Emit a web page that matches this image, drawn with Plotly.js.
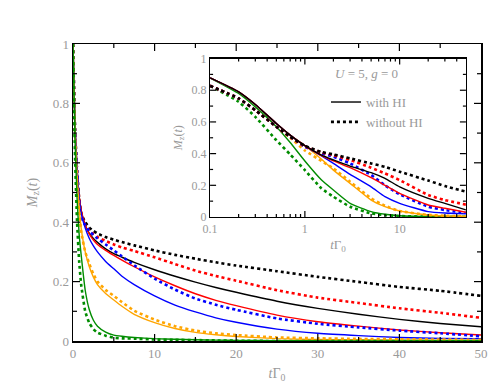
<!DOCTYPE html>
<html>
<head>
<meta charset="utf-8">
<script src="https://cdn.plot.ly/plotly-3.0.1.min.js"></script>
<style>body{margin:0;background:#fff}#plotly-div{width:501px;height:383px}</style>
</head>
<body>
<div id="plotly-div"></div>
<script>
// main panel: time axis (linear)
var tMain = [0, 0.25, 0.5, 0.75, 1, 1.5, 2, 2.5, 3, 4, 5, 6, 7.5, 10, 12.5, 15, 17.5, 20, 25, 30, 35, 40, 45, 50];

var blackHI    = [1, 0.72, 0.58, 0.49, 0.44, 0.39, 0.362, 0.345, 0.332, 0.31, 0.294, 0.282, 0.265, 0.24, 0.218, 0.198, 0.18, 0.164, 0.134, 0.11, 0.09, 0.073, 0.059, 0.048];
var blackNoHI  = [1, 0.71, 0.57, 0.48, 0.43, 0.40, 0.382, 0.371, 0.362, 0.35, 0.341, 0.333, 0.322, 0.305, 0.29, 0.277, 0.265, 0.254, 0.235, 0.216, 0.199, 0.182, 0.169, 0.152];
var redHI      = [1, 0.72, 0.58, 0.49, 0.44, 0.39, 0.36, 0.34, 0.325, 0.305, 0.288, 0.272, 0.25, 0.216, 0.186, 0.159, 0.137, 0.119, 0.087, 0.065, 0.05, 0.037, 0.028, 0.02];
var redNoHI    = [1, 0.71, 0.57, 0.48, 0.43, 0.39, 0.372, 0.36, 0.35, 0.337, 0.325, 0.315, 0.303, 0.282, 0.259, 0.237, 0.219, 0.203, 0.171, 0.146, 0.128, 0.11, 0.095, 0.078];
var blueHI     = [1, 0.72, 0.58, 0.48, 0.43, 0.38, 0.345, 0.32, 0.3, 0.268, 0.243, 0.218, 0.19, 0.152, 0.121, 0.098, 0.078, 0.063, 0.04, 0.026, 0.018, 0.012, 0.009, 0.008];
var blueNoHI   = [1, 0.71, 0.57, 0.47, 0.42, 0.39, 0.37, 0.357, 0.345, 0.325, 0.305, 0.285, 0.255, 0.21, 0.173, 0.143, 0.122, 0.105, 0.076, 0.058, 0.046, 0.035, 0.026, 0.016];
var orangeHI   = [1, 0.71, 0.55, 0.45, 0.38, 0.3, 0.25, 0.215, 0.19, 0.16, 0.138, 0.117, 0.09, 0.062, 0.042, 0.029, 0.021, 0.015, 0.008, 0.005, 0.004, 0.003, 0.002, 0.002];
var orangeNoHI = [1, 0.69, 0.53, 0.44, 0.37, 0.3, 0.26, 0.225, 0.2, 0.172, 0.152, 0.131, 0.102, 0.072, 0.05, 0.035, 0.026, 0.02, 0.012, 0.009, 0.007, 0.006, 0.005, 0.004];
var greenHI    = [1, 0.68, 0.48, 0.36, 0.29, 0.17, 0.105, 0.07, 0.05, 0.03, 0.02, 0.016, 0.012, 0.008, 0.006, 0.004, 0.003, 0.002, 0.001, 0.001, 0, 0, 0, 0];
var greenNoHI  = [1, 0.62, 0.4, 0.27, 0.19, 0.1, 0.06, 0.04, 0.028, 0.018, 0.011, 0.009, 0.008, 0.005, 0.004, 0.003, 0.002, 0.001, 0, 0, 0, 0, 0, 0];

// inset: U = 5, g = 0 (log time axis)
var tInset = [0.1, 0.2, 0.3, 0.5, 0.7, 1, 1.5, 2, 3, 5, 7, 10, 20, 30, 50];

var inBlackHI    = [0.878, 0.79, 0.71, 0.59, 0.517, 0.45, 0.39, 0.36, 0.321, 0.28, 0.244, 0.19, 0.118, 0.086, 0.045];
var inBlackNoHI  = [0.828, 0.748, 0.674, 0.57, 0.506, 0.45, 0.41, 0.395, 0.37, 0.338, 0.317, 0.286, 0.23, 0.195, 0.16];
var inRedHI      = [0.878, 0.79, 0.71, 0.59, 0.517, 0.45, 0.388, 0.355, 0.311, 0.248, 0.2, 0.149, 0.076, 0.055, 0.03];
var inRedNoHI    = [0.828, 0.748, 0.674, 0.57, 0.506, 0.447, 0.408, 0.39, 0.36, 0.311, 0.275, 0.233, 0.139, 0.107, 0.078];
var inBlueHI     = [0.878, 0.79, 0.71, 0.59, 0.517, 0.45, 0.385, 0.338, 0.269, 0.19, 0.128, 0.086, 0.034, 0.025, 0.02];
var inBlueNoHI   = [0.828, 0.748, 0.674, 0.57, 0.506, 0.443, 0.4, 0.38, 0.338, 0.265, 0.2, 0.143, 0.065, 0.044, 0.026];
var inOrangeHI   = [0.878, 0.79, 0.71, 0.59, 0.517, 0.45, 0.365, 0.296, 0.212, 0.107, 0.065, 0.038, 0.013, 0.007, 0.004];
var inOrangeNoHI = [0.828, 0.748, 0.674, 0.57, 0.5, 0.42, 0.353, 0.307, 0.223, 0.118, 0.071, 0.038, 0.013, 0.008, 0.004];
var inGreenHI    = [0.878, 0.78, 0.695, 0.57, 0.47, 0.353, 0.233, 0.17, 0.086, 0.034, 0.017, 0.008, 0.003, 0.002, 0.002];
var inGreenNoHI  = [0.828, 0.727, 0.632, 0.485, 0.395, 0.296, 0.18, 0.128, 0.065, 0.023, 0.012, 0.006, 0.002, 0.002, 0.002];

var colors = ['black', 'red', 'blue', 'orange', 'rgb(0,140,0)'];

function solid(c) { return {color: c, width: 1.4, shape: 'spline', smoothing: 0.5}; }
function dotted(c) { return {color: c, width: 2.6, dash: '3px,3px', shape: 'spline', smoothing: 0.5}; }

var mainHI = [blackHI, redHI, blueHI, orangeHI, greenHI];
var mainNoHI = [blackNoHI, redNoHI, blueNoHI, orangeNoHI, greenNoHI];
var insetHI = [inBlackHI, inRedHI, inBlueHI, inOrangeHI, inGreenHI];
var insetNoHI = [inBlackNoHI, inRedNoHI, inBlueNoHI, inOrangeNoHI, inGreenNoHI];

var data = [];
for (var i = 0; i < colors.length; i++) {
    data.push({x: tMain, y: mainNoHI[i], mode: 'lines', line: dotted(colors[i]), showlegend: false, xaxis: 'x', yaxis: 'y'});
    data.push({x: tMain, y: mainHI[i], mode: 'lines', line: solid(colors[i]), showlegend: false, xaxis: 'x', yaxis: 'y'});
}
for (var i = colors.length - 1; i >= 0; i--) {
    data.push({x: tInset, y: insetNoHI[i], mode: 'lines', line: dotted(colors[i]), name: 'without HI',
               showlegend: i === 0, legendrank: 2, xaxis: 'x2', yaxis: 'y2'});
    data.push({x: tInset, y: insetHI[i], mode: 'lines', line: solid(colors[i]), name: 'with HI',
               showlegend: i === 0, legendrank: 1, xaxis: 'x2', yaxis: 'y2'});
}

// subplot boxes in paper fractions, and their size in px (plot area 408 x 297)
var mainBox = {x0: 0, x1: 1, y0: 0, y1: 1};
var insetBox = {x0: 0.336, x1: 0.963, y0: 0.4175, y1: 0.951};
var PW = 408, PH = 297;

// inward tick marks on all four sides, drawn as paper shapes
var shapes = [];
function seg(x0, y0, x1, y1) {
    shapes.push({type: 'line', xref: 'paper', yref: 'paper', x0: x0, y0: y0, x1: x1, y1: y1,
                 layer: 'above', line: {color: 'black', width: 1.2}});
}
function xTick(b, f, len) {
    var x = b.x0 + f * (b.x1 - b.x0), d = len / PH;
    seg(x, b.y0, x, b.y0 + d);
    seg(x, b.y1, x, b.y1 - d);
}
function yTick(b, f, len) {
    var y = b.y0 + f * (b.y1 - b.y0), d = len / PW;
    seg(b.x0, y, b.x0 + d, y);
    seg(b.x1, y, b.x1 - d, y);
}
for (var v = 5; v < 50; v += 5) xTick(mainBox, v / 50, v % 10 === 0 ? 7 : 4);
for (var k = 1; k < 10; k++) yTick(mainBox, k / 10, k % 2 === 0 ? 7 : 4);
var logSpan = Math.log10(50) + 1;
[0.1, 1, 10].forEach(function (dec) {
    for (var m = 1; m < 10; m++) {
        var tv = dec * m;
        if (tv <= 0.1 || tv >= 50) continue;
        xTick(insetBox, (Math.log10(tv) + 1) / logSpan, m === 1 ? 6 : 3);
    }
});
for (var k = 1; k < 10; k++) yTick(insetBox, k / 10, k % 2 === 0 ? 6 : 3);

var txt = '#9a9a9a';
var serif = 'Liberation Serif, serif';
var tickFont = {family: serif, size: 13, color: txt};
var insetFont = {family: serif, size: 12, color: txt};

var layout = {
    width: 501,
    height: 383,
    margin: {l: 73, r: 20, t: 44, b: 42},
    paper_bgcolor: 'white',
    plot_bgcolor: 'rgba(0,0,0,0)',
    showlegend: true,
    legend: {
        x: 0.62, y: 0.855, xanchor: 'left', yanchor: 'top',
        bgcolor: 'rgba(0,0,0,0)', font: {family: serif, size: 13, color: txt},
        tracegroupgap: 0
    },
    xaxis: {
        domain: [mainBox.x0, mainBox.x1], range: [0, 50], tickmode: 'linear', tick0: 0, dtick: 10, ticks: '',
        showline: true, linecolor: 'black', linewidth: 1.5, mirror: true,
        showgrid: false, zeroline: false, tickfont: tickFont,
        title: {text: '<i>t</i>Γ<sub>0</sub>', font: {family: serif, size: 14, color: txt}, standoff: 8}
    },
    yaxis: {
        domain: [mainBox.y0, mainBox.y1], range: [0, 1], tickmode: 'linear', tick0: 0, dtick: 0.2, ticks: '',
        showline: true, linecolor: 'black', linewidth: 1.5, mirror: true,
        showgrid: false, zeroline: false, tickfont: tickFont,
        title: {text: '<i>M</i><sub>z</sub>(<i>t</i>)', font: {family: serif, size: 14, color: txt}, standoff: 12}
    },
    xaxis2: {
        domain: [insetBox.x0, insetBox.x1], anchor: 'y2', type: 'log', range: [-1, Math.log10(50)],
        tickmode: 'linear', tick0: 0, dtick: 1, ticks: '',
        showline: true, linecolor: 'black', linewidth: 1.3, mirror: true,
        showgrid: false, zeroline: false, tickfont: insetFont,
        title: {text: '<i>t</i>Γ<sub>0</sub>', font: {family: serif, size: 13, color: txt}, standoff: 5}
    },
    yaxis2: {
        domain: [insetBox.y0, insetBox.y1], anchor: 'x2', range: [0, 1], tickmode: 'linear', tick0: 0, dtick: 0.2, ticks: '',
        showline: true, linecolor: 'black', linewidth: 1.3, mirror: true,
        showgrid: false, zeroline: false, tickfont: insetFont,
        title: {text: '<i>M</i><sub>z</sub>(<i>t</i>)', font: {family: serif, size: 12, color: txt}, standoff: 6}
    },
    shapes: shapes,
    annotations: [{
        xref: 'paper', yref: 'paper', x: 0.72, y: 0.9, xanchor: 'center', yanchor: 'middle',
        text: '<i>U</i> = 5, <i>g</i> = 0', showarrow: false,
        font: {family: serif, size: 13, color: txt}
    }]
};

Plotly.newPlot('plotly-div', data, layout, {staticPlot: true});
</script>
</body>
</html>
